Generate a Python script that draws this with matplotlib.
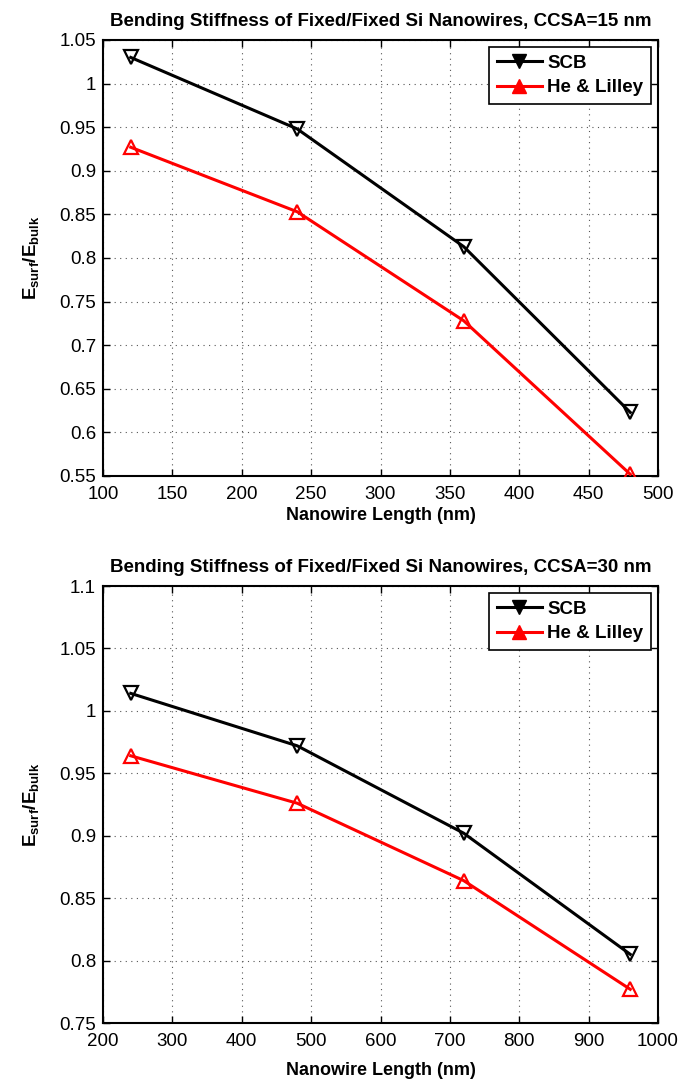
import matplotlib
matplotlib.use('Agg')
import matplotlib.pyplot as plt
from matplotlib.lines import Line2D
from matplotlib.ticker import FuncFormatter

plt.rcParams['font.family'] = ['Liberation Sans', 'DejaVu Sans']
plt.rcParams['mathtext.fontset'] = 'custom'
plt.rcParams['mathtext.rm'] = 'Liberation Sans:bold'
plt.rcParams['mathtext.it'] = 'Liberation Sans:bold'
plt.rcParams['mathtext.bf'] = 'Liberation Sans:bold'

# data
length15 = [120, 240, 360, 480]
scb15 = [1.030, 0.948, 0.813, 0.623]
hl15 = [0.927, 0.853, 0.728, 0.552]

length30 = [240, 480, 720, 960]
scb30 = [1.014, 0.972, 0.902, 0.805]
hl30 = [0.964, 0.926, 0.864, 0.777]

titles = ['Bending Stiffness of Fixed/Fixed Si Nanowires, CCSA=15 nm',
          'Bending Stiffness of Fixed/Fixed Si Nanowires, CCSA=30 nm']

fig = plt.figure(figsize=(6.94, 10.8), dpi=100)
ax1 = fig.add_axes([103/694, 1 - 476/1080, 555/694, 436/1080])
ax2 = fig.add_axes([103/694, 1 - 1023/1080, 555/694, 437/1080])

fmt = FuncFormatter(lambda v, p: ('%.2f' % v).rstrip('0').rstrip('.'))


def setup(ax, x, scb, hl, title, xlim, xticks, ylim, yticks):
    ax.plot(x, scb, color='black', lw=2.2, marker='v', ms=10,
            markerfacecolor='none', markeredgewidth=1.6, zorder=3)
    ax.plot(x, hl, color='red', lw=2.2, marker='^', ms=10,
            markerfacecolor='none', markeredgewidth=1.6, zorder=3)
    ax.set_xlim(*xlim)
    ax.set_ylim(*ylim)
    ax.set_xticks(xticks)
    ax.set_yticks(yticks)
    ax.yaxis.set_major_formatter(fmt)
    ax.grid(True, linestyle=(0, (1, 4)), color='#555555', lw=0.8)
    ax.tick_params(direction='in', top=True, right=True, length=5,
                   width=1, labelsize=13.5, pad=5)
    ax.tick_params(axis='x', pad=7)
    for s in ax.spines.values():
        s.set_linewidth(1.5)
    ax.set_title(title, fontsize=13.5, fontweight='bold', pad=10)
    ax.set_xlabel('Nanowire Length (nm)', fontsize=13, fontweight='bold')
    ax.set_ylabel('E$_{surf}$/E$_{bulk}$', fontsize=13.5, fontweight='bold',
                  labelpad=13)
    handles = [Line2D([], [], color='black', lw=2.2, marker='v', ms=10),
               Line2D([], [], color='red', lw=2.2, marker='^', ms=10)]
    leg = ax.legend(handles, ['SCB', 'He & Lilley'], loc='upper right',
                    fancybox=False, edgecolor='black', framealpha=1,
                    prop={'weight': 'bold', 'size': 13.5},
                    handlelength=2.4, handletextpad=0.3, borderpad=0.4,
                    labelspacing=0.4, borderaxespad=0,
                    bbox_to_anchor=(0.987, 0.984))
    leg.get_frame().set_linewidth(1.2)


setup(ax1, length15, scb15, hl15, titles[0], (100, 500),
      [100, 150, 200, 250, 300, 350, 400, 450, 500], (0.55, 1.05),
      [0.55, 0.6, 0.65, 0.7, 0.75, 0.8, 0.85, 0.9, 0.95, 1.0, 1.05])
ax1.xaxis.labelpad = 3

setup(ax2, length30, scb30, hl30, titles[1], (200, 1000),
      [200, 300, 400, 500, 600, 700, 800, 900, 1000], (0.75, 1.1),
      [0.75, 0.8, 0.85, 0.9, 0.95, 1.0, 1.05, 1.1])
ax2.xaxis.labelpad = 9

fig.savefig('out.png', dpi=100)
